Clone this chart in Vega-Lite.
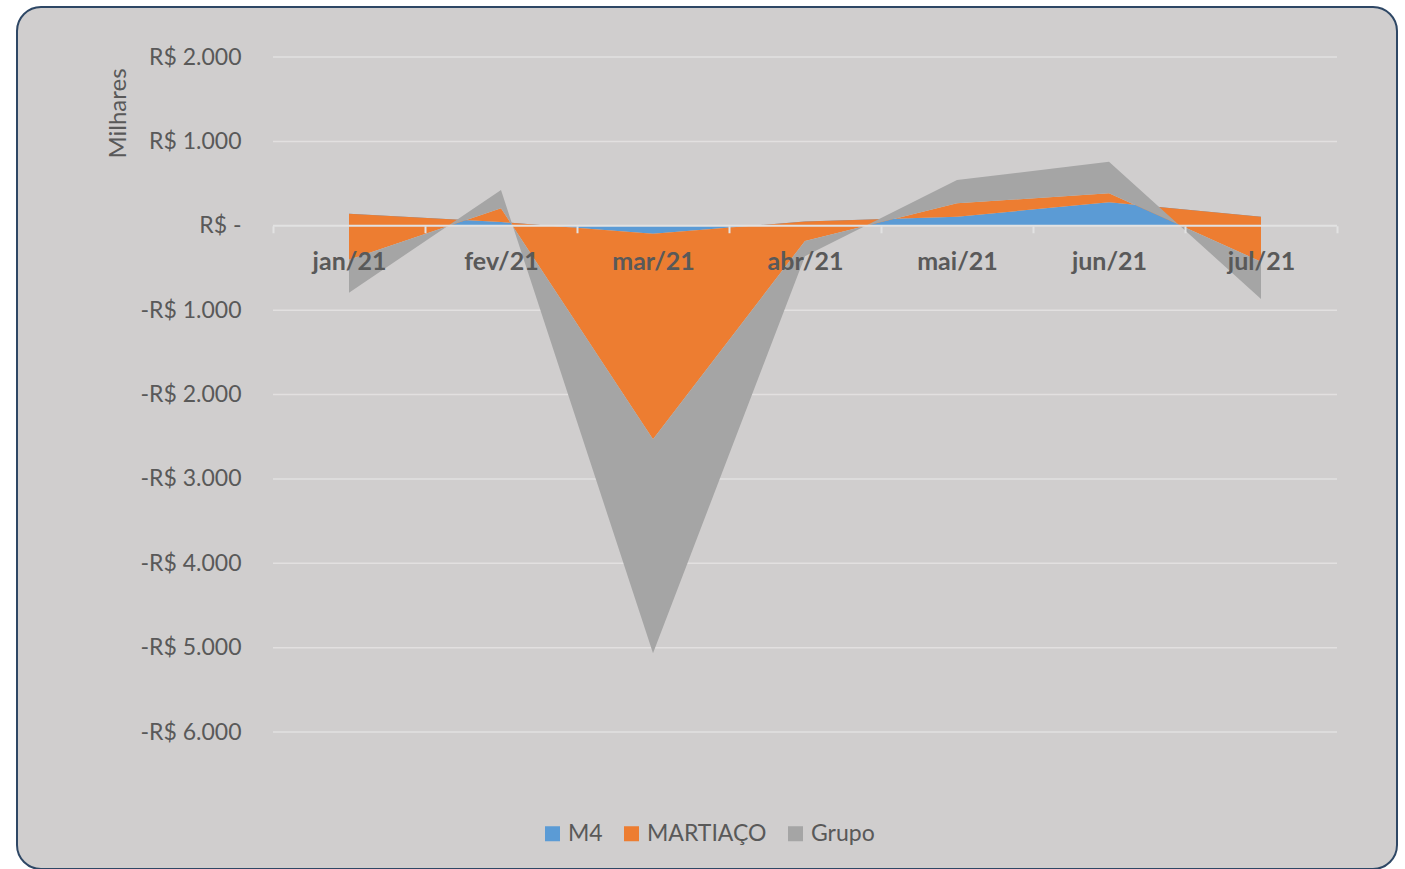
{
  "$schema": "https://vega.github.io/schema/vega-lite/v6.json",
  "width": 1380,
  "height": 862,
  "autosize": "none",
  "padding": {"left": 17, "top": 7, "right": 8, "bottom": 0},
  "background": "white",
  "config": {
    "font": "Lato",
    "view": {"fill": "#D0CECE", "stroke": "#2E4765", "strokeWidth": 2, "cornerRadius": 24}
  },
  "datasets": {
    "series": [
      {"mes": "jan/21", "i": 1, "serie": "M4", "valor": 142},
      {"mes": "jan/21", "i": 1, "serie": "MARTIAÇO", "valor": -545},
      {"mes": "jan/21", "i": 1, "serie": "Grupo", "valor": -390},
      {"mes": "fev/21", "i": 2, "serie": "M4", "valor": 44},
      {"mes": "fev/21", "i": 2, "serie": "MARTIAÇO", "valor": 162},
      {"mes": "fev/21", "i": 2, "serie": "Grupo", "valor": 217},
      {"mes": "mar/21", "i": 3, "serie": "M4", "valor": -95},
      {"mes": "mar/21", "i": 3, "serie": "MARTIAÇO", "valor": -2436},
      {"mes": "mar/21", "i": 3, "serie": "Grupo", "valor": -2536},
      {"mes": "abr/21", "i": 4, "serie": "M4", "valor": 50},
      {"mes": "abr/21", "i": 4, "serie": "MARTIAÇO", "valor": -230},
      {"mes": "abr/21", "i": 4, "serie": "Grupo", "valor": -180},
      {"mes": "mai/21", "i": 5, "serie": "M4", "valor": 107},
      {"mes": "mai/21", "i": 5, "serie": "MARTIAÇO", "valor": 159},
      {"mes": "mai/21", "i": 5, "serie": "Grupo", "valor": 276},
      {"mes": "jun/21", "i": 6, "serie": "M4", "valor": 278},
      {"mes": "jun/21", "i": 6, "serie": "MARTIAÇO", "valor": 107},
      {"mes": "jun/21", "i": 6, "serie": "Grupo", "valor": 374},
      {"mes": "jul/21", "i": 7, "serie": "M4", "valor": 107},
      {"mes": "jul/21", "i": 7, "serie": "MARTIAÇO", "valor": -533},
      {"mes": "jul/21", "i": 7, "serie": "Grupo", "valor": -442}
    ],
    "grade": [
      {"v": -6000}, {"v": -5000}, {"v": -4000}, {"v": -3000},
      {"v": -2000}, {"v": -1000}, {"v": 1000}, {"v": 2000}
    ]
  },
  "layer": [
    {
      "data": {"name": "grade"},
      "mark": {"type": "rule", "color": "#E2E0E0", "strokeWidth": 1.5},
      "encoding": {
        "y": {"field": "v", "type": "quantitative"},
        "x": {"datum": 0.5, "type": "quantitative"},
        "x2": {"datum": 7.5}
      }
    },
    {
      "data": {"name": "series"},
      "transform": [
        {"window": [{"op": "sum", "field": "valor", "as": "topo"}], "groupby": ["i"], "frame": [null, 0]},
        {"window": [{"op": "lag", "field": "topo", "param": 1, "as": "base"}], "groupby": ["i"]}
      ],
      "layer": [
        {
          "transform": [{"filter": "datum.serie === 'M4'"}],
          "mark": {"type": "area", "opacity": 1},
          "encoding": {
            "x": {
              "field": "i", "type": "quantitative",
              "scale": {"domain": [-1.18421, 7.89474], "nice": false, "zero": false},
              "axis": {
                "orient": "bottom", "offset": -643.25,
                "values": [0.5, 1, 1.5, 2, 2.5, 3, 3.5, 4, 4.5, 5, 5.5, 6, 6.5, 7, 7.5],
                "domain": false, "grid": false, "ticks": true, "tickSize": 7, "tickWidth": 2, "tickColor": "#E2E2E2",
                "tickOpacity": {"condition": {"test": "datum.value % 1 === 0", "value": 0}, "value": 1},
                "labelExpr": "datum.value % 1 === 0 ? ['jan/21','fev/21','mar/21','abr/21','mai/21','jun/21','jul/21'][datum.value - 1] : ''",
                "labelFont": "Lato", "labelFontSize": 25, "labelFontWeight": "bold", "labelColor": "#595959",
                "labelPadding": 17, "labelBaseline": "top", "labelOverlap": false, "labelFlush": false,
                "title": null, "zindex": 1
              }
            },
            "y": {
              "field": "topo", "type": "quantitative",
              "scale": {"domain": [-7623.7, 2592.6], "nice": false, "zero": false},
              "axis": {
                "orient": "left", "offset": -256,
                "values": [-6000, -5000, -4000, -3000, -2000, -1000, 0, 1000, 2000],
                "domain": false, "ticks": false, "grid": false,
                "labelPadding": 32, "labelFontSize": 23, "labelColor": "#595959", "labelFont": "Lato",
                "labelExpr": "datum.value === 0 ? 'R$ -\u2002' : (datum.value < 0 ? '-' : '') + 'R$ ' + replace(format(abs(datum.value), ','), ',', '.')",
                "title": "Milhares", "titleFont": "Lato", "titleFontSize": 24, "titleFontWeight": "normal",
                "titleColor": "#595959", "titleX": -143, "titleY": 106, "titleAngle": -90
              }
            },
            "y2": {"datum": 0},
            "color": {
              "field": "serie", "type": "nominal",
              "scale": {"domain": ["M4", "MARTIAÇO", "Grupo"], "range": ["#5B9BD5", "#ED7D31", "#A5A5A5"]},
              "legend": {
                "orient": "none", "legendX": 524, "legendY": 815, "direction": "horizontal", "title": null,
                "symbolType": "square", "symbolSize": 225, "symbolStrokeWidth": 0, "symbolOpacity": 1,
                "labelFontSize": 23, "labelColor": "#595959", "labelFont": "Lato",
                "columnPadding": 17, "labelOffset": 4, "padding": 0
              }
            }
          }
        },
        {
          "transform": [{"filter": "datum.serie === 'MARTIAÇO'"}],
          "mark": {"type": "area", "opacity": 1},
          "encoding": {
            "x": {"field": "i", "type": "quantitative"},
            "y": {"field": "topo", "type": "quantitative"},
            "y2": {"field": "base"},
            "color": {"field": "serie", "type": "nominal", "legend": null}
          }
        },
        {
          "transform": [{"filter": "datum.serie === 'Grupo'"}],
          "mark": {"type": "area", "opacity": 1},
          "encoding": {
            "x": {"field": "i", "type": "quantitative"},
            "y": {"field": "topo", "type": "quantitative"},
            "y2": {"field": "base"},
            "color": {"field": "serie", "type": "nominal", "legend": null}
          }
        }
      ]
    },
    {
      "data": {"values": [{"eixo": 0}]},
      "mark": {"type": "rule", "color": "#E2E2E2", "strokeWidth": 2},
      "encoding": {
        "y": {"field": "eixo", "type": "quantitative"},
        "x": {"datum": 0.5, "type": "quantitative"},
        "x2": {"datum": 7.5}
      }
    }
  ]
}
